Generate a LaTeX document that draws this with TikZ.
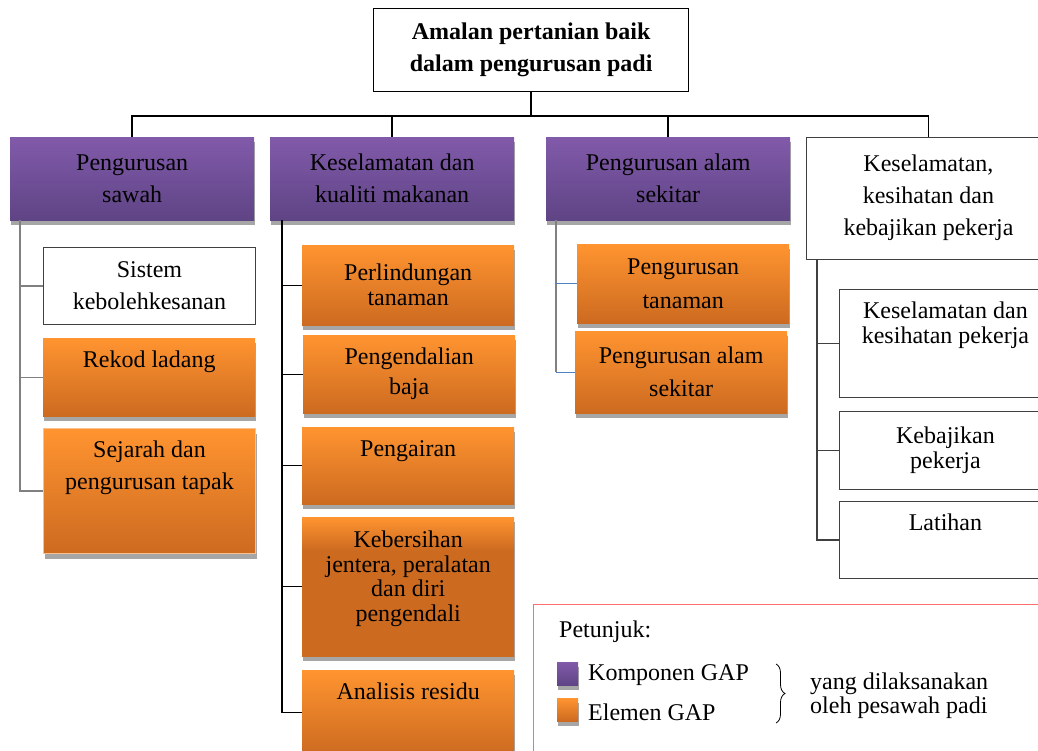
\documentclass[tikz,border=0pt]{standalone}
\usepackage{fontspec}
\setmainfont{Liberation Serif}
\usetikzlibrary{shadows,decorations.pathreplacing}
\definecolor{grptop}{RGB}{129,90,170}
\definecolor{grpbot}{RGB}{95,68,133}
\definecolor{ortop}{RGB}{255,148,48}
\definecolor{orbot}{RGB}{204,106,32}
\definecolor{orpale}{RGB}{250,192,143}
\definecolor{shgray}{RGB}{166,166,166}
\definecolor{boxline}{RGB}{64,64,64}
\definecolor{legred}{RGB}{255,110,110}
\definecolor{brblue}{RGB}{79,129,189}
\pgfdeclareverticalshading{kebshade}{100bp}{color(0bp)=(orbot); color(25bp)=(orbot); color(63bp)=(orbot); color(75bp)=(ortop); color(100bp)=(ortop)}
\tikzset{
  every node/.style={font=\fontsize{24}{32}\selectfont},
  base/.style={minimum width=212pt,inner sep=0pt,align=center,anchor=north west},
  shd/.style={drop shadow={opacity=1,fill=shgray,shadow xshift=1pt,shadow yshift=-5pt}},
  grp/.style={base,minimum width=244pt,minimum height=83pt,top color=grptop,bottom color=grpbot,shd},
  elem/.style={base,top color=ortop,bottom color=orbot,shd},
  plain/.style={base,draw=boxline,fill=white,line width=0.9pt},
  tight/.style={font=\fontsize{24}{25}\selectfont},
  lbl/.style={anchor=north,yshift=-13pt,align=center,inner sep=0pt},
  toptxt/.style={label={[lbl]north:{#1}}},
  cn/.style={line width=1.6pt},
  trunk/.style={line width=1.2pt},
}

\begin{document}
\begin{tikzpicture}[x=1pt,y=-1pt]
\useasboundingbox (0,0) rectangle (1038,751);
\clip (0,0) rectangle (1038,751);
% top of the tree
\node[plain,minimum width=315pt,minimum height=83pt,draw=black,line width=1.3pt,
  font=\fontsize{24}{32}\selectfont\bfseries] (top) at (373,8)
  {Amalan pertanian baik\\dalam pengurusan padi};
% GAP components
\node[grp] (g1) at (10,137) {Pengurusan\\sawah};
\node[grp] (g2) at (270,137) {Keselamatan dan\\kualiti makanan};
\node[grp] (g3) at (546,137) {Pengurusan alam\\sekitar};
\node[plain,minimum width=244pt,minimum height=122pt,text depth=6pt] (g4) at (806,137)
  {Keselamatan,\\kesihatan dan\\kebajikan pekerja};
% column 1
\node[plain,minimum height=77pt] (e1) at (43,247) {Sistem\\kebolehkesanan};
\node[elem,minimum height=78pt,toptxt={Rekod ladang}] (e2) at (43,338) {};
\node[elem,minimum height=125pt,draw=orpale,line width=1pt,
  toptxt={Sejarah dan\\pengurusan tapak}] (e3) at (43,428) {};
% column 2
\node[elem,minimum height=80pt,tight] (e4) at (302,245) {Perlindungan\\tanaman};
\node[elem,minimum height=78pt,font=\fontsize{24}{30}\selectfont] (e5) at (303,335) {Pengendalian\\baja};
\node[elem,minimum height=77pt,toptxt={Pengairan}] (e6) at (302,427) {};
\node[elem,minimum height=139pt,shading=kebshade,
  label={[lbl,yshift=-1pt,font=\fontsize{24}{24.5}\selectfont]north:{Kebersihan\\jentera, peralatan\\dan diri\\pengendali}}] (e7) at (302,517) {};
\node[elem,minimum height=84pt,toptxt={Analisis residu}] (e8) at (302,670) {};
% column 3
\node[elem,minimum height=79pt,font=\fontsize{24}{34}\selectfont] (e9) at (577,244) {Pengurusan\\tanaman};
\node[elem,minimum height=82pt,font=\fontsize{24}{33}\selectfont] (e10) at (575,331) {Pengurusan alam\\sekitar};
% column 4
\node[plain,minimum height=108pt,
  label={[lbl,tight]north:{Keselamatan dan\\kesihatan pekerja}}] (e11) at (839,289) {};
\node[plain,minimum height=78pt,tight] (e12) at (839,411) {Kebajikan\\pekerja};
\node[plain,minimum height=77pt,toptxt={Latihan}] (e13) at (839,501) {};
% connectors
\draw[cn] (top.south) -- ++(0,24) coordinate (bus);
\foreach \g in {g1,g2,g3,g4}
  \draw[cn] (\g.north) |- (bus);
\coordinate (c1) at ([xshift=10pt]g1.south west);
\coordinate (c2) at ([xshift=12pt]g2.south west);
\coordinate (c3) at ([xshift=10pt]g3.south west);
\coordinate (c4) at ([xshift=11pt]g4.south west);
\foreach \e in {e1,e2,e3}
  \draw[trunk,gray] (c1) |- (\e.west);
\foreach \e in {e4,e5,e6,e7,e8}
  \draw[trunk] (c2) |- (\e.west);
\draw[trunk,gray] (c3) -- (c3 |- e10.west);
\foreach \e in {e9,e10}
  \draw[trunk,brblue] (c3 |- \e.west) -- (\e.west);
\foreach \e in {e11,e12,e13}
  \draw[trunk,boxline] (c4) |- (\e.west);
% legend
\node[base,minimum width=540pt,minimum height=170pt,draw=legred,line width=1.2pt] (leg) at (533,604) {};
\node[anchor=west,inner sep=0pt] (pt) at (559,632) {Petunjuk:};
\node[grp,minimum width=21pt,minimum height=23pt] (kp) at (557,662) {};
\node[elem,minimum width=21pt,minimum height=23pt] (el) at (557,698) {};
\node[anchor=west,inner sep=0pt] (kpt) at (588,675) {Komponen GAP};
\node[anchor=west,inner sep=0pt] (elt) at (588,712) {Elemen GAP};
\coordinate (br1) at (776,664);
\coordinate (br2) at (776,723);
\draw[line width=0.8pt,decorate,decoration={brace,amplitude=9pt}] (br1) -- (br2);
\node[anchor=west,inner sep=0pt,align=left,font=\fontsize{24}{24}\selectfont] (note) at (810,696)
  {yang dilaksanakan\\oleh pesawah padi};
\end{tikzpicture}
\end{document}
